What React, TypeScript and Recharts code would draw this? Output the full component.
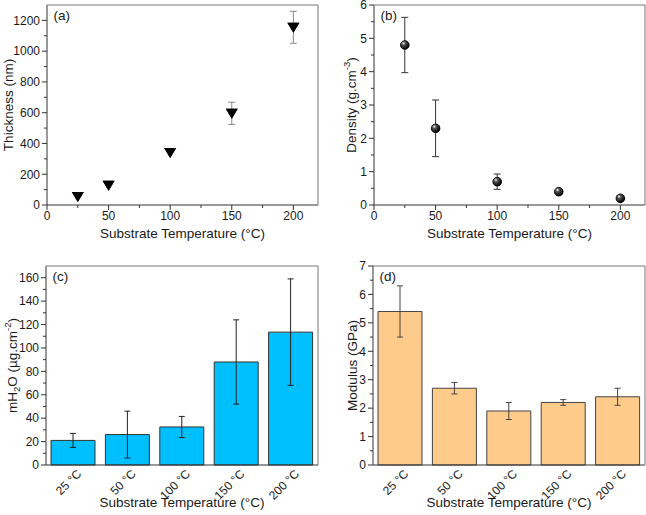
import React from 'react';
import { ScatterChart, Scatter, BarChart, Bar, XAxis, YAxis, ErrorBar } from 'recharts';

const temps = [25, 50, 100, 150, 200];
const thickness = [55, 128, 342, 596, 1155];
const thicknessErr = [0, 0, 0, 72, 104];
const density = [4.8, 2.3, 0.7, 0.4, 0.2];
const densityErr = [0.83, 0.85, 0.23, 0.05, 0.03];

const categories = ['25 °C', '50 °C', '100 °C', '150 °C', '200 °C'];
const waterUptake = [21, 26, 32.5, 88, 113.5];
const waterErr = [6, 20, 9, 36, 45.5];
const modulus = [5.4, 2.7, 1.9, 2.2, 2.4];
const modulusErr = [0.9, 0.2, 0.3, 0.1, 0.3];

const tempTicks = [0, 25, 50, 75, 100, 125, 150, 175, 200];
const tempMajor = [0, 50, 100, 150, 200];
const thicknessTicks = [0, 100, 200, 300, 400, 500, 600, 700, 800, 900, 1000, 1100, 1200];
const thicknessMajor = [0, 200, 400, 600, 800, 1000, 1200];
const densityTicks = [0, 0.5, 1, 1.5, 2, 2.5, 3, 3.5, 4, 4.5, 5, 5.5, 6];
const densityMajor = [0, 1, 2, 3, 4, 5, 6];
const waterTicks = [0, 10, 20, 30, 40, 50, 60, 70, 80, 90, 100, 110, 120, 130, 140, 150, 160];
const waterMajor = [0, 20, 40, 60, 80, 100, 120, 140, 160];
const modulusTicks = [0, 0.5, 1, 1.5, 2, 2.5, 3, 3.5, 4, 4.5, 5, 5.5, 6, 6.5, 7];
const modulusMajor = [0, 1, 2, 3, 4, 5, 6, 7];

const TEXT = '#1a1a1a';
const AXIS = '#333';
const FRAME = '#777';
const FONT = 12;
const TITLE = 13.5;

const thicknessData = temps.map((t, i) => ({ t, v: thickness[i], err: thicknessErr[i] }));
const densityData = temps.map((t, i) => ({ t, v: density[i], err: densityErr[i] }));
const waterData = categories.map((c, i) => ({ c, v: waterUptake[i], err: waterErr[i] }));
const modulusData = categories.map((c, i) => ({ c, v: modulus[i], err: modulusErr[i] }));

function xTick(major: number[]) {
  return (props: any) => {
    const { x, y, payload } = props;
    const isMajor = major.includes(payload.value);
    return (
      <g>
        <line x1={x} y1={y} x2={x} y2={y + (isMajor ? 5 : 3)} stroke={AXIS} />
        {isMajor && (
          <text x={x} y={y + 15} textAnchor="middle" fontSize={FONT} fill={TEXT}>
            {payload.value}
          </text>
        )}
      </g>
    );
  };
}

function yTick(major: number[]) {
  return (props: any) => {
    const { x, y, payload } = props;
    const isMajor = major.includes(payload.value);
    return (
      <g>
        <line x1={x} y1={y} x2={x - (isMajor ? 5 : 3)} y2={y} stroke={AXIS} />
        {isMajor && (
          <text x={x - 7} y={y + 4.3} textAnchor="end" fontSize={FONT} fill={TEXT}>
            {payload.value}
          </text>
        )}
      </g>
    );
  };
}

const CategoryTick = (props: any) => {
  const { x, y, payload } = props;
  const ax = x + 9;
  const ay = y + 9.5;
  return (
    <text x={ax} y={ay} transform={`rotate(-45, ${ax}, ${ay})`} textAnchor="end" fontSize={FONT} fill={TEXT}>
      {payload.value}
    </text>
  );
};

function yTitle(offsetX: number, body: React.ReactNode) {
  return (props: any) => {
    const vb = props.viewBox;
    const x = vb.x + offsetX;
    const y = vb.y + vb.height / 2;
    return (
      <text
        x={x}
        y={y}
        transform={`rotate(-90, ${x}, ${y})`}
        textAnchor="middle"
        dominantBaseline="central"
        fontSize={TITLE}
        fill={TEXT}
      >
        {body}
      </text>
    );
  };
}

const DownTriangle = (props: any) => {
  const { cx, cy } = props;
  return <path d={`M${cx - 6},${cy - 4.5} L${cx + 6},${cy - 4.5} L${cx},${cy + 5.5} Z`} fill="#000" />;
};

const Ball = (props: any) => {
  const { cx, cy } = props;
  return <circle cx={cx} cy={cy} r={4.3} fill="url(#ballGrad)" stroke="#000" strokeWidth={0.5} />;
};

const xTitle = (offset: number) => ({
  value: 'Substrate Temperature (°C)',
  position: 'insideBottom' as const,
  offset,
  fontSize: TITLE,
  fill: TEXT,
});

const panelLabel = (text: string) => ({
  value: text,
  position: 'insideTopLeft' as const,
  offset: 6.5,
  fontSize: TITLE,
  fill: TEXT,
});

export default function App() {
  return (
    <div
      style={{
        position: 'absolute',
        left: 0,
        top: 0,
        width: 646,
        height: 515,
        background: '#fff',
        fontFamily: "'Liberation Sans', Arial, sans-serif",
      }}
    >
      <div style={{ position: 'absolute', left: 0, top: 0 }}>
        <ScatterChart width={323} height={245} margin={{ top: 4, right: 4, bottom: 0, left: 0 }}>
          <XAxis
            dataKey="t"
            type="number"
            domain={[0, 220]}
            ticks={tempTicks}
            interval={0}
            tickSize={0}
            tickMargin={0}
            tickLine={false}
            tick={xTick(tempMajor)}
            height={40}
            axisLine={{ stroke: AXIS }}
            label={xTitle(7)}
          />
          <YAxis
            dataKey="v"
            type="number"
            domain={[0, 1300]}
            ticks={thicknessTicks}
            interval={0}
            tickSize={0}
            tickMargin={0}
            tickLine={false}
            tick={yTick(thicknessMajor)}
            width={47}
            axisLine={{ stroke: AXIS }}
            label={{ content: yTitle(8, 'Thickness (nm)') }}
          />
          <XAxis
            xAxisId="top"
            orientation="top"
            type="number"
            domain={[0, 220]}
            allowDataOverflow
            height={1}
            tick={false}
            tickLine={false}
            axisLine={{ stroke: FRAME }}
            label={panelLabel('(a)')}
          />
          <YAxis
            yAxisId="right"
            orientation="right"
            type="number"
            domain={[0, 1]}
            allowDataOverflow
            width={1}
            tick={false}
            tickLine={false}
            axisLine={{ stroke: FRAME }}
          />
          <Scatter data={thicknessData} dataKey="v" shape={DownTriangle} isAnimationActive={false}>
            <ErrorBar dataKey="err" direction="y" width={3.5} stroke="#888" strokeWidth={1} />
          </Scatter>
          <Scatter data={thicknessData} dataKey="v" shape={DownTriangle} isAnimationActive={false} />
        </ScatterChart>
      </div>

      <div style={{ position: 'absolute', left: 323, top: 0 }}>
        <ScatterChart width={323} height={245} margin={{ top: 4, right: 0, bottom: 0, left: 0 }}>
          <defs>
            <radialGradient id="ballGrad" cx="35%" cy="30%" r="70%">
              <stop offset="0%" stopColor="#fff" />
              <stop offset="30%" stopColor="#555" />
              <stop offset="100%" stopColor="#000" />
            </radialGradient>
          </defs>
          <XAxis
            dataKey="t"
            type="number"
            domain={[0, 220]}
            ticks={tempTicks}
            interval={0}
            tickSize={0}
            tickMargin={0}
            tickLine={false}
            tick={xTick(tempMajor)}
            height={40}
            axisLine={{ stroke: AXIS }}
            label={xTitle(7)}
          />
          <YAxis
            dataKey="v"
            type="number"
            domain={[0, 6]}
            ticks={densityTicks}
            interval={0}
            tickSize={0}
            tickMargin={0}
            tickLine={false}
            tick={yTick(densityMajor)}
            width={51}
            axisLine={{ stroke: AXIS }}
            label={{
              content: yTitle(
                28,
                <>
                  Density (g.cm
                  <tspan dy={-5} fontSize={9.5}>
                    -3
                  </tspan>
                  <tspan dy={5}>)</tspan>
                </>
              ),
            }}
          />
          <XAxis
            xAxisId="top"
            orientation="top"
            type="number"
            domain={[0, 220]}
            allowDataOverflow
            height={1}
            tick={false}
            tickLine={false}
            axisLine={{ stroke: FRAME }}
            label={panelLabel('(b)')}
          />
          <YAxis
            yAxisId="right"
            orientation="right"
            type="number"
            domain={[0, 1]}
            allowDataOverflow
            width={1}
            tick={false}
            tickLine={false}
            axisLine={{ stroke: FRAME }}
          />
          <Scatter data={densityData} dataKey="v" shape={Ball} isAnimationActive={false}>
            <ErrorBar dataKey="err" direction="y" width={3.5} stroke="#333" strokeWidth={1} />
          </Scatter>
          <Scatter data={densityData} dataKey="v" shape={Ball} isAnimationActive={false} />
        </ScatterChart>
      </div>

      <div style={{ position: 'absolute', left: 0, top: 245 }}>
        <BarChart width={323} height={270} data={waterData} margin={{ top: 20, right: 4, bottom: 0, left: 0 }}>
          <XAxis
            dataKey="c"
            interval={0}
            tickSize={0}
            tickMargin={0}
            tickLine={false}
            tick={CategoryTick}
            height={50}
            axisLine={{ stroke: AXIS }}
            label={xTitle(8)}
          />
          <YAxis
            type="number"
            domain={[0, 170]}
            ticks={waterTicks}
            interval={0}
            tickSize={0}
            tickMargin={0}
            tickLine={false}
            tick={yTick(waterMajor)}
            width={46}
            axisLine={{ stroke: AXIS }}
            label={{
              content: yTitle(
                12,
                <>
                  mH
                  <tspan dy={4} fontSize={9.5}>
                    2
                  </tspan>
                  <tspan dy={-4}>O (µg.cm</tspan>
                  <tspan dy={-5} fontSize={9.5}>
                    -2
                  </tspan>
                  <tspan dy={5}>)</tspan>
                </>
              ),
            }}
          />
          <XAxis
            xAxisId="top"
            orientation="top"
            dataKey="c"
            height={1}
            tick={false}
            tickLine={false}
            axisLine={{ stroke: FRAME }}
            label={panelLabel('(c)')}
          />
          <YAxis
            yAxisId="right"
            orientation="right"
            type="number"
            domain={[0, 1]}
            allowDataOverflow
            width={1}
            tick={false}
            tickLine={false}
            axisLine={{ stroke: FRAME }}
          />
          <Bar dataKey="v" fill="#00BFFF" stroke="#333" strokeWidth={1} barSize={44} isAnimationActive={false}>
            <ErrorBar dataKey="err" width={3} stroke="#222" strokeWidth={1} />
          </Bar>
        </BarChart>
      </div>

      <div style={{ position: 'absolute', left: 323, top: 245 }}>
        <BarChart width={323} height={270} data={modulusData} margin={{ top: 20, right: 0, bottom: 0, left: 0 }}>
          <XAxis
            dataKey="c"
            interval={0}
            tickSize={0}
            tickMargin={0}
            tickLine={false}
            tick={CategoryTick}
            height={50}
            axisLine={{ stroke: AXIS }}
            label={xTitle(8)}
          />
          <YAxis
            type="number"
            domain={[0, 7]}
            ticks={modulusTicks}
            interval={0}
            tickSize={0}
            tickMargin={0}
            tickLine={false}
            tick={yTick(modulusMajor)}
            width={50}
            axisLine={{ stroke: AXIS }}
            label={{ content: yTitle(29, 'Modulus (GPa)') }}
          />
          <XAxis
            xAxisId="top"
            orientation="top"
            dataKey="c"
            height={1}
            tick={false}
            tickLine={false}
            axisLine={{ stroke: FRAME }}
            label={panelLabel('(d)')}
          />
          <YAxis
            yAxisId="right"
            orientation="right"
            type="number"
            domain={[0, 1]}
            allowDataOverflow
            width={1}
            tick={false}
            tickLine={false}
            axisLine={{ stroke: FRAME }}
          />
          <Bar dataKey="v" fill="#FECB8B" stroke="#444" strokeWidth={1} barSize={44} isAnimationActive={false}>
            <ErrorBar dataKey="err" width={3} stroke="#444" strokeWidth={1} />
          </Bar>
        </BarChart>
      </div>
    </div>
  );
}
